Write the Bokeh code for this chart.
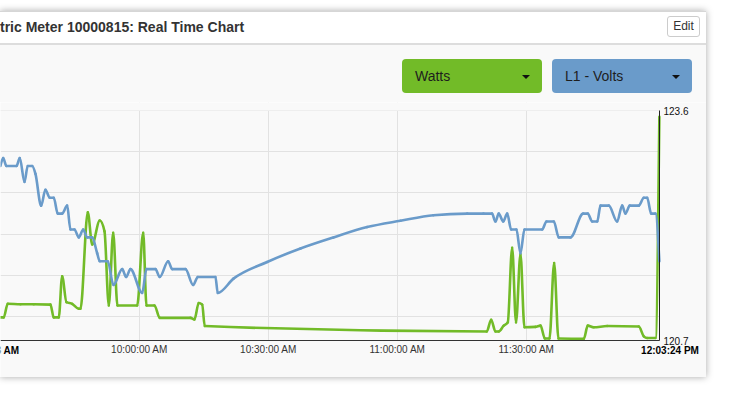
import numpy as np
import pandas as pd
from bokeh.plotting import figure
from bokeh.models import (Range1d, LinearAxis, FixedTicker, Grid, DatetimeTickFormatter,
                          ColumnDataSource, Label, Div, Column, BoxAnnotation)
from bokeh.embed import file_html
from bokeh.resources import INLINE

DAY = "2016-05-10 "

# ---- L1 - Volts series (blue) ----
volt_times = ["09:27:40", "09:28:18", "09:29:04", "09:31:24", "09:32:10", "09:33:16", "09:34:01",
              "09:35:03", "09:35:49", "09:37:08", "09:38:08", "09:39:08", "09:40:04", "09:41:00",
              "09:42:01", "09:43:11", "09:43:57", "09:44:53", "09:45:53", "09:46:55", "09:47:50",
              "09:49:00", "09:50:10", "09:50:46", "09:52:38", "09:53:57", "09:55:59", "09:56:54",
              "09:57:54", "10:00:38", "10:01:38", "10:03:43", "10:04:43", "10:06:40", "10:07:36",
              "10:10:42", "10:12:29", "10:13:34", "10:17:40", "10:18:12", "10:21:52", "10:29:42",
              "10:37:26", "10:45:07", "10:52:57", "11:00:42", "11:08:22", "11:16:13", "11:20:00",
              "11:21:59", "11:22:47", "11:23:33", "11:24:35", "11:25:31", "11:26:26", "11:27:40",
              "11:28:36", "11:29:32", "11:33:39", "11:34:39", "11:36:21", "11:37:31", "11:40:14",
              "11:43:11", "11:44:15", "11:45:17", "11:46:27", "11:47:13", "11:49:09", "11:51:05",
              "11:52:15", "11:53:01", "11:54:01", "11:56:07", "11:57:17", "11:58:04", "11:59:00",
              "12:00:00", "12:00:54"]
volts = [122.9, 123.0, 122.9, 122.9, 123.0, 122.7, 122.9,
         122.9, 122.8, 122.4, 122.6, 122.5, 122.5, 122.3,
         122.3, 122.4, 122.1, 122.1, 122.0, 122.1, 122.0,
         122.0, 121.8, 121.7, 121.7, 121.4, 121.6, 121.5,
         121.6, 121.3, 121.6, 121.6, 121.5, 121.7, 121.6,
         121.6, 121.4, 121.5, 121.5, 121.3, 121.48, 121.69,
         121.86, 122.0, 122.13, 122.21, 122.28, 122.3, 122.3,
         122.3, 122.2, 122.3, 122.2, 122.3, 122.1, 122.1,
         121.8, 122.1, 122.1, 122.2, 122.2, 122.0, 122.0,
         122.3, 122.3, 122.2, 122.2, 122.4, 122.4, 122.2,
         122.4, 122.3, 122.4, 122.4, 122.5, 122.5, 122.3,
         122.3, 121.7]

# ---- Watts series (green) ----
watt_times = ["09:27:40", "09:28:26", "09:29:22", "09:32:20", "09:35:25", "09:39:18", "09:40:04",
              "09:41:14", "09:42:01", "09:43:01", "09:44:21", "09:45:53", "09:46:17", "09:47:59",
              "09:49:00", "09:50:46", "09:51:52", "09:52:52", "09:53:53", "09:54:53", "09:59:28",
              "10:00:52", "10:01:38", "10:03:29", "10:04:43", "10:11:52", "10:12:47", "10:13:47",
              "10:14:35", "10:15:11", "11:20:46", "11:21:47", "11:22:47", "11:23:33", "11:24:43",
              "11:25:39", "11:26:40", "11:27:34", "11:28:36", "11:29:32", "11:32:05", "11:33:16",
              "11:34:16", "11:35:21", "11:36:26", "11:37:26", "11:43:20", "11:44:15", "11:45:39",
              "11:48:46", "11:56:07", "11:57:17", "11:58:04", "12:00:00", "12:00:54"]
watts = [490, 490, 655, 650, 650, 645, 490,
         490, 990, 675, 655, 595, 595, 1765,
         1375, 1665, 1535, 635, 1515, 635, 635,
         1515, 635, 635, 485, 485, 465, 665,
         645, 385, 320, 460, 320, 320, 390,
         430, 1335, 430, 1255, 370, 375, 390,
         235, 235, 1150, 235, 230, 390, 370,
         385, 380, 260, 240, 240, 2925]

# ---- axes / labels ----
x_tick_times = ["10:00:00", "10:30:00", "11:00:00", "11:30:00"]
first_label = "9:25:48 AM"
last_label = "12:03:24 PM"
volt_axis_ticks = [120.7, 123.6]
watt_grid_ticks = [500, 1000, 1500, 2000, 2500, 3000]
watt_span = [210, 3000]
view_span = ["09:27:41", "12:00:56"]

title_text = "tric Meter 10000815: Real Time Chart"
button_labels = ["Watts", "L1 - Volts"]
GREEN = "#72bb28"
BLUE = "#6a9bca"
BG = "#f9f9f9"
GRID = "#e2e2e2"
FONT = "Liberation Sans"

# layout of the chart canvas (pixels)
FIG_W, FIG_H = 706, 275
PLOT_W, PLOT_TOP, PLOT_BOTTOM = 659, 8, 238   # data area inside the canvas


def ms(times):
    idx = pd.to_datetime([DAY + t for t in times])
    return np.asarray((idx - pd.Timestamp("1970-01-01")) // pd.Timedelta(milliseconds=1), dtype=float)


def monotone_source(xs, ys):
    """Monotone cubic (smoothed chart line) expressed as Bezier segments."""
    x = np.asarray(xs, float)
    y = np.asarray(ys, float)
    n = len(x)
    h = np.diff(x)
    s = np.diff(y) / h
    m = np.zeros(n)
    for i in range(1, n - 1):
        h0, h1, s0, s1 = h[i - 1], h[i], s[i - 1], s[i]
        pp = (s0 * h1 + s1 * h0) / (h0 + h1)
        m[i] = (np.sign(s0) + np.sign(s1)) * min(abs(s0), abs(s1), 0.5 * abs(pp))
    m[0] = (3 * s[0] - m[1]) / 2
    m[-1] = (3 * s[-1] - m[-2]) / 2
    d = h / 3
    return ColumnDataSource(dict(
        x0=x[:-1], y0=y[:-1], x1=x[1:], y1=y[1:],
        cx0=x[:-1] + d, cy0=y[:-1] + d * m[:-1],
        cx1=x[1:] - d, cy1=y[1:] - d * m[1:]))


def extend(lo, hi, span_px, before_px, after_px):
    per = (hi - lo) / span_px
    return lo - before_px * per, hi + after_px * per


vx = ms(view_span)
x_lo, x_hi = float(vx[0]), float(vx[1])
plot_h = PLOT_BOTTOM - PLOT_TOP
xr = extend(x_lo, x_hi, PLOT_W, 0, FIG_W - PLOT_W)
vr = extend(volt_axis_ticks[0], volt_axis_ticks[1], plot_h, FIG_H - PLOT_BOTTOM, PLOT_TOP)
wr = extend(watt_span[0], watt_span[1], plot_h, FIG_H - PLOT_BOTTOM, PLOT_TOP)

p = figure(width=FIG_W, height=FIG_H, title=None, margin=0,
           x_range=Range1d(*xr), y_range=Range1d(*vr),
           x_axis_type=None, y_axis_type=None,
           toolbar_location=None, output_backend="svg",
           min_border_left=0, min_border_right=0, min_border_top=0, min_border_bottom=0,
           background_fill_color=BG, border_fill_color=BG, outline_line_color=None)
p.extra_y_ranges = {"watts": Range1d(*wr)}

# grid lines
x_ticker = FixedTicker(ticks=list(ms(x_tick_times)))
p.add_layout(Grid(dimension=0, ticker=x_ticker, grid_line_color=GRID, grid_line_width=1))
p.add_layout(Grid(dimension=1, ticker=FixedTicker(ticks=watt_grid_ticks), y_range_name="watts",
                  grid_line_color=GRID, grid_line_width=1))
# keep the grid inside the data area
for kw in (dict(top=volt_axis_ticks[0]), dict(bottom=volt_axis_ticks[1]), dict(left=x_hi)):
    p.add_layout(BoxAnnotation(fill_color=BG, fill_alpha=1.0, line_color=None, level="underlay", **kw))

fmt = "%I:%M:%S %p"
xaxis = LinearAxis(ticker=x_ticker, fixed_location=volt_axis_ticks[0], bounds=(x_lo, x_hi),
                   formatter=DatetimeTickFormatter(seconds=fmt, minsec=fmt, minutes=fmt, hourmin=fmt,
                                                   hours=fmt, boundary_scaling=False),
                   major_tick_line_color=None, minor_tick_line_color=None,
                   major_tick_out=0, major_tick_in=0, major_label_standoff=3,
                   axis_line_color="#333333", axis_line_width=1,
                   major_label_text_font=FONT, major_label_text_font_size="10px",
                   major_label_text_color="#333333")
p.add_layout(xaxis, "below")

yaxis = LinearAxis(ticker=FixedTicker(ticks=volt_axis_ticks), fixed_location=x_hi,
                   bounds=(volt_axis_ticks[0], volt_axis_ticks[1]),
                   major_tick_line_color=None, minor_tick_line_color=None,
                   major_tick_out=0, major_tick_in=0, major_label_standoff=4,
                   axis_line_color="#222222", axis_line_width=1,
                   major_label_text_font=FONT, major_label_text_font_size="10px",
                   major_label_text_color="#111111")
p.add_layout(yaxis, "right")

spec = dict(x0="x0", y0="y0", x1="x1", y1="y1", cx0="cx0", cy0="cy0", cx1="cx1", cy1="cy1")
p.bezier(source=monotone_source(ms(watt_times), watts), line_color=GREEN, line_width=2.6,
         line_cap="round", y_range_name="watts", **spec)
p.bezier(source=monotone_source(ms(volt_times), volts), line_color=BLUE, line_width=2.6,
         line_cap="round", **spec)

p.add_layout(Label(x=x_hi, y=volt_axis_ticks[0], text=last_label, text_align="center",
                   text_baseline="top", x_offset=10.5, y_offset=-4, text_font=FONT,
                   text_font_size="10px", text_font_style="bold", text_color="#000000"))
p.add_layout(Label(x=x_lo, y=volt_axis_ticks[0], text=first_label, text_align="right",
                   text_baseline="top", x_offset=19, y_offset=-4, text_font=FONT,
                   text_font_size="10px", text_font_style="bold", text_color="#000000"))


def button(left, color, label):
    return (f'<div style="position:absolute;left:{left}px;top:48px;width:140px;height:34px;'
            f'background:{color};border-radius:4px;">'
            f'<span style="position:absolute;left:13px;top:0;line-height:34px;font-size:14px;'
            f'color:#1e1e1e;white-space:nowrap;">{label}</span>'
            f'<span style="position:absolute;left:120px;top:16px;width:0;height:0;'
            f'border-left:4px solid transparent;border-right:4px solid transparent;'
            f'border-top:4px solid #111;"></span></div>')


header_html = (
    f'<div style="position:relative;width:706px;height:91px;background:{BG};overflow:hidden;'
    f"font-family:'Liberation Sans',Arial,sans-serif;\">"
    f'<div style="position:absolute;left:0;top:0;width:706px;height:32px;background:#ffffff;'
    f'border-top:1px solid #d6d6d6;box-sizing:border-box;"></div>'
    f'<div style="position:absolute;left:0;top:32px;width:706px;height:2px;background:#dddddd;"></div>'
    f'<div style="position:absolute;left:0;top:8px;line-height:16px;font-size:14px;font-weight:bold;'
    f'color:#333333;white-space:nowrap;">{title_text}</div>'
    f'<div style="position:absolute;left:667px;top:5px;width:33px;height:21px;box-sizing:border-box;'
    f'border:1px solid #cccccc;border-radius:3px;background:#ffffff;font-size:12px;line-height:19px;'
    f'text-align:center;color:#333333;">Edit</div>'
    f'{button(402, GREEN, button_labels[0])}'
    f'{button(552, BLUE, button_labels[1])}'
    f'</div>')

top = Div(text=header_html, width=706, height=91, margin=0)

layout = Column(children=[top, p], margin=(11, 0, 0, 0), spacing=0,
                styles={"box-shadow": "0 0 7px rgba(0,0,0,0.35)"})

open("out.html", "w").write(file_html(layout, INLINE))
